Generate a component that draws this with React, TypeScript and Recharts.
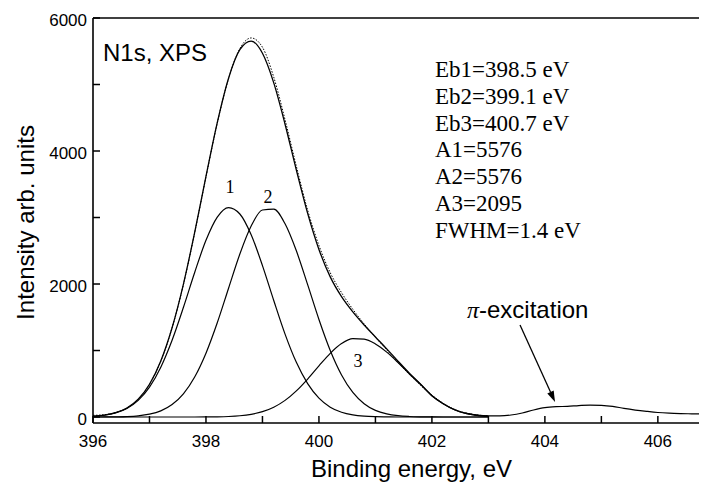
import React from 'react';
import { LineChart, Line, XAxis, YAxis, ReferenceLine } from 'recharts';

const energy = [396.0, 396.2, 396.4, 396.6, 396.8, 397.0, 397.2, 397.4, 397.6, 397.8, 398.0, 398.2, 398.4, 398.6, 398.8, 399.0, 399.2, 399.4, 399.6, 399.8, 400.0, 400.2, 400.4, 400.6, 400.8, 401.0, 401.2, 401.4, 401.6, 401.8, 402.0, 402.2, 402.4, 402.6, 402.8, 403.0];
const peak1 = [11, 27, 62, 129, 251, 450, 750, 1155, 1647, 2174, 2657, 3006, 3149, 3053, 2741, 2277, 1752, 1247, 822, 502, 284, 148, 72, 32, 13, 5, 2, 0, 0, 0, 0, 0, 0, 0, 0, 0];
const peak2 = [0, 1, 3, 7, 18, 43, 93, 188, 349, 602, 960, 1417, 1937, 2451, 2871, 3113, 3125, 2905, 2499, 1990, 1467, 1001, 633, 370, 200, 100, 47, 20, 8, 3, 1, 0, 0, 0, 0, 0];
const peak3 = [0, 0, 0, 0, 0, 0, 0, 0, 0, 0, 1, 3, 8, 19, 41, 80, 147, 250, 393, 571, 769, 958, 1105, 1179, 1171, 1099, 976, 820, 651, 490, 320, 200, 110, 55, 25, 10];
const fitSum = [11, 28, 65, 136, 269, 493, 843, 1343, 1996, 2776, 3618, 4426, 5094, 5523, 5653, 5470, 5024, 4402, 3714, 3063, 2520, 2107, 1810, 1581, 1384, 1204, 1025, 840, 659, 493, 321, 200, 110, 55, 25, 10];
const measured = [25, 35, 65, 135, 265, 490, 840, 1340, 1990, 2770, 3610, 4420, 5090, 5540, 5700, 5560, 5110, 4470, 3770, 3110, 2580, 2170, 1870, 1620, 1400, 1200, 1010, 820, 640, 475, 330, 205, 115, 60, 30, 18];

const tailEnergy = [402.6, 402.8, 403.0, 403.2, 403.4, 403.6, 403.8, 404.0, 404.2, 404.4, 404.6, 404.8, 405.0, 405.2, 405.4, 405.6, 405.8, 406.0, 406.2, 406.4, 406.6, 406.87];
const tailIntensity = [60, 30, 18, 18, 30, 60, 105, 140, 155, 160, 172, 180, 176, 160, 130, 105, 85, 68, 58, 52, 48, 45];

const xTicks = [396, 397, 398, 399, 400, 401, 402, 403, 404, 405, 406];
const yTicks = [0, 1000, 2000, 3000, 4000, 5000, 6000];
const params = ['Eb1=398.5 eV', 'Eb2=399.1 eV', 'Eb3=400.7 eV', 'A1=5576', 'A2=5576', 'A3=2095', 'FWHM=1.4 eV'];

const data = energy.map((e, i) => ({
  e,
  p1: peak1[i],
  p2: peak2[i],
  p3: peak3[i],
  fit: fitSum[i],
  meas: measured[i],
}));
const tail = tailEnergy.map((e, i) => ({ e, t: tailIntensity[i] }));

const SANS = '"Liberation Sans", Arial, Helvetica, sans-serif';
const SERIF = '"Liberation Serif", "Times New Roman", serif';

const TICK_SIZE = 6;
const X_MARGIN = 6;
const Y_MARGIN = 0;
const INWARD = 7;

const XTick = (props: any) => {
  const { x, y, payload } = props;
  const v = payload.value as number;
  const axisY = y - TICK_SIZE - X_MARGIN;
  return (
    <g>
      <line x1={x} x2={x} y1={axisY} y2={axisY - INWARD} stroke="#000" strokeWidth={1.5} />
      {v % 2 === 0 ? (
        <text x={x} y={y + 12} textAnchor="middle" fontFamily={SANS} fontSize={17} fill="#000">
          {v}
        </text>
      ) : null}
    </g>
  );
};

const YTick = (props: any) => {
  const { x, y, payload } = props;
  const v = payload.value as number;
  const axisX = x + TICK_SIZE + Y_MARGIN;
  return (
    <g>
      <line x1={axisX} x2={axisX + INWARD} y1={y} y2={y} stroke="#000" strokeWidth={1.5} />
      {v % 2000 === 0 ? (
        <text x={x} y={y + 8} textAnchor="end" fontFamily={SANS} fontSize={17} fill="#000">
          {v}
        </text>
      ) : null}
    </g>
  );
};

const Arrow = (props: any) => {
  const { x1, y1, x2, y2 } = props;
  const ang = Math.atan2(y2 - y1, x2 - x1);
  const len = 11;
  const half = 3.5;
  const bx = x2 - len * Math.cos(ang);
  const by = y2 - len * Math.sin(ang);
  const px = -Math.sin(ang) * half;
  const py = Math.cos(ang) * half;
  return (
    <g>
      <line x1={x1} y1={y1} x2={bx} y2={by} stroke="#000" strokeWidth={1.3} />
      <polygon points={`${x2},${y2} ${bx + px},${by + py} ${bx - px},${by - py}`} fill="#000" />
    </g>
  );
};

export default function App() {
  const W = 699;
  const H = 475;
  return (
    <div style={{ position: 'relative', width: W, height: H, background: '#fff' }}>
      <LineChart width={W} height={H} data={data} margin={{ top: 10, right: 0, bottom: 0, left: 0 }}>
        <XAxis
          dataKey="e"
          type="number"
          domain={[396, 406.87]}
          ticks={xTicks}
          interval={0}
          allowDataOverflow
          height={60}
          tickSize={TICK_SIZE}
          tickMargin={X_MARGIN}
          tickLine={false}
          tick={<XTick />}
          axisLine={{ stroke: '#000', strokeWidth: 1.6 }}
        />
        <YAxis
          type="number"
          domain={[-90, 6000]}
          ticks={yTicks}
          interval={0}
          allowDataOverflow
          width={85}
          tickSize={TICK_SIZE}
          tickMargin={Y_MARGIN}
          tickLine={false}
          tick={<YTick />}
          axisLine={{ stroke: '#000', strokeWidth: 1.6 }}
        />
        <ReferenceLine y={6000} stroke="#000" strokeWidth={1.6} ifOverflow="visible" />
        <Line dataKey="p1" type="monotone" stroke="#000" strokeWidth={1.2} dot={false} isAnimationActive={false} />
        <Line dataKey="p2" type="monotone" stroke="#000" strokeWidth={1.2} dot={false} isAnimationActive={false} />
        <Line dataKey="p3" type="monotone" stroke="#000" strokeWidth={1.2} dot={false} isAnimationActive={false} />
        <Line dataKey="meas" type="monotone" stroke="#000" strokeWidth={1} strokeDasharray="1.5 1.5" dot={false} isAnimationActive={false} />
        <Line dataKey="fit" type="monotone" stroke="#000" strokeWidth={1.3} dot={false} isAnimationActive={false} />
        <Line data={tail} dataKey="t" type="monotone" stroke="#000" strokeWidth={1.2} dot={false} isAnimationActive={false} />
        <ReferenceLine
          segment={[{ x: 403.56, y: 1383 }, { x: 404.18, y: 226 }]}
          ifOverflow="visible"
          shape={(p: any) => <Arrow {...p} />}
        />
      </LineChart>
      <svg
        width={W}
        height={H}
        style={{ position: 'absolute', left: 0, top: 0, pointerEvents: 'none' }}
      >
        <text x={95} y={53} fontFamily={SANS} fontSize={24} fill="#000">N1s, XPS</text>
        {params.map((t, i) => (
          <text key={t} x={427} y={69 + i * 26.8} fontFamily={SERIF} fontSize={23} fill="#000">
            {t}
          </text>
        ))}
        <text x={222} y={185} textAnchor="middle" fontFamily={SERIF} fontSize={18} fill="#000">1</text>
        <text x={260} y={195} textAnchor="middle" fontFamily={SERIF} fontSize={18} fill="#000">2</text>
        <text x={350} y={359} textAnchor="middle" fontFamily={SERIF} fontSize={18} fill="#000">3</text>
        <text x={459} y={310} fontFamily={SANS} fontSize={24} fill="#000">
          <tspan fontFamily={SERIF} fontStyle="italic">π</tspan>-excitation
        </text>
        <text x={303} y={469} fontFamily={SANS} fontSize={24} fill="#000">Binding energy, eV</text>
        <text
          x={0}
          y={0}
          transform="translate(26,214.5) rotate(-90)"
          textAnchor="middle"
          fontFamily={SANS}
          fontSize={24}
          fill="#000"
        >
          Intensity arb. units
        </text>
      </svg>
    </div>
  );
}
